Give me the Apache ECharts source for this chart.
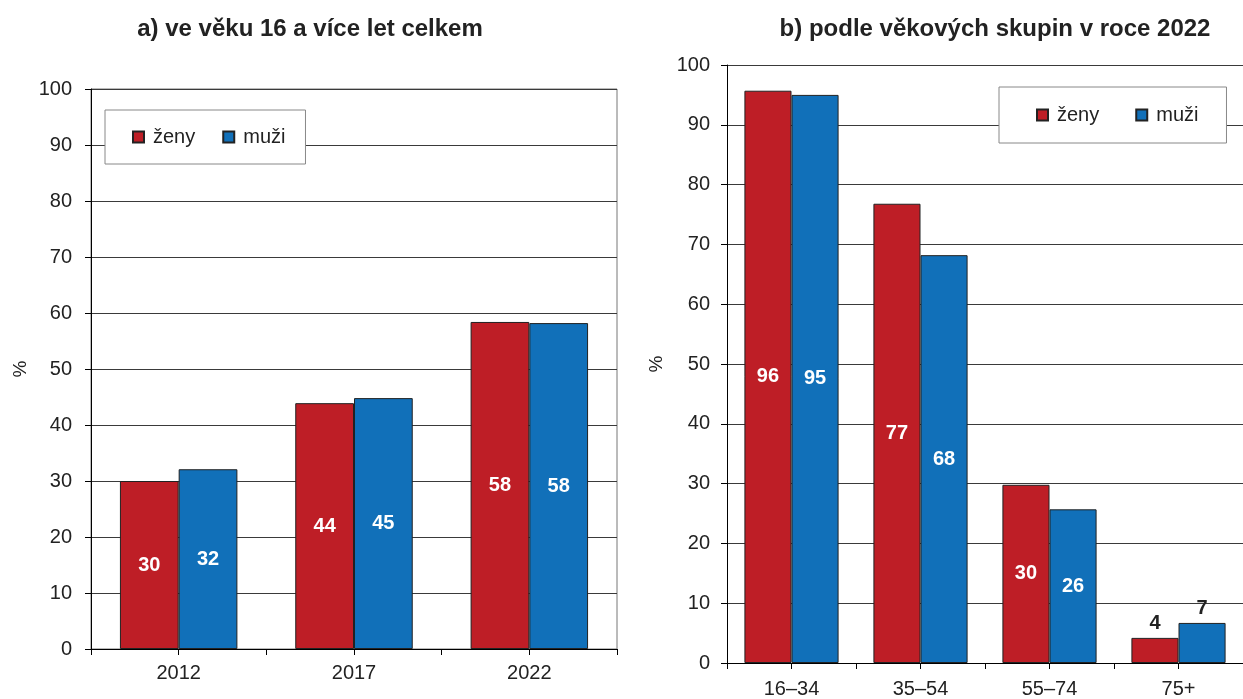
<!DOCTYPE html>
<html>
<head>
<meta charset="utf-8">
<script src="https://cdn.jsdelivr.net/npm/echarts@6/dist/echarts.min.js"></script>
<style>
  html, body { margin: 0; padding: 0; background: #fff; }
  #chart { width: 1243px; height: 699px; }
</style>
</head>
<body>
<div id="chart"></div>
<script>
// a) celkem
const years = ['2012', '2017', '2022'];
const zenyA = [30, 43.9, 58.4];
const muziA = [32.1, 44.8, 58.2];

// b) podle věkových skupin 2022
const ageGroups = ['16–34', '35–54', '55–74', '75+'];
const zenyB = [95.7, 76.8, 29.8, 4.2];
const muziB = [95.0, 68.2, 25.7, 6.7];

const yTicks = { min: 0, max: 100, interval: 10 };

const RED = '#BE1E26';
const BLUE = '#1170B9';
const FONT = '"Liberation Sans", Arial, sans-serif';

const chart = echarts.init(document.getElementById('chart'));

// bars of the 75+ group carry the label above the bar
const labelData = (vals, topIdx) => vals.map((v, i) => {
  if (i === topIdx) {
    return { value: v, label: { position: 'top', color: '#222', distance: 4 } };
  }
  return v;
});

const barBase = (name, color) => ({
  name: name,
  type: 'bar',
  barGap: 0,
  itemStyle: { color: color, borderColor: '#222', borderWidth: 1 },
  label: {
    show: true,
    position: 'inside',
    color: '#fff',
    fontFamily: FONT,
    fontWeight: 'bold',
    fontSize: 20,
    formatter: p => Math.round(p.value)
  },
  emphasis: { disabled: true }
});

const yAxisBase = {
  type: 'value',
  min: yTicks.min,
  max: yTicks.max,
  interval: yTicks.interval,
  name: '%',
  nameLocation: 'middle',
  nameRotate: 90,
  nameGap: 61,
  nameTextStyle: { fontFamily: FONT, fontSize: 19, color: '#222' },
  axisLine: { show: true, lineStyle: { color: '#000', width: 1 } },
  axisTick: { show: true, length: 6, lineStyle: { color: '#000' } },
  axisLabel: { fontFamily: FONT, fontSize: 20, color: '#222' },
  splitLine: { show: true, lineStyle: { color: '#3a3a3a', width: 1 } }
};

const legendBase = {
  data: ['ženy', 'muži'],
  icon: 'rect',
  itemWidth: 11,
  itemHeight: 11,
  borderColor: '#888',
  borderWidth: 1,
  backgroundColor: '#fff',
  textStyle: { fontFamily: FONT, fontSize: 20, color: '#222', padding: [0, 0, 0, 4] },
  selectedMode: false
};

// hidden value axis: ticks at band edges and band centres (n half-bands)
const halfTicks = (grid, n) => ({
  type: 'value', gridIndex: grid, position: 'bottom',
  min: 0, max: n, interval: 1,
  axisLine: { show: false },
  axisTick: { show: true, length: 6, lineStyle: { color: '#000' } },
  axisLabel: { show: false },
  splitLine: { show: false }
});

const option = {
  animation: false,
  title: [
    {
      text: 'a) ve věku 16 a více let celkem',
      left: 305, top: 12, textAlign: 'center',
      textStyle: { fontFamily: FONT, fontSize: 24, fontWeight: 'bold', color: '#222' }
    },
    {
      text: 'b) podle věkových skupin v roce 2022',
      left: 990, top: 12, textAlign: 'center',
      textStyle: { fontFamily: FONT, fontSize: 24, fontWeight: 'bold', color: '#222' }
    }
  ],
  legend: [
    Object.assign({ left: 105, top: 110, itemGap: 27, padding: [17, 20, 17, 27] }, legendBase),
    Object.assign({ left: 999, top: 87, itemGap: 36, padding: [18, 28, 18, 37] }, legendBase)
  ],
  grid: [
    { left: 91, top: 89, width: 526, height: 560, show: true, borderColor: '#777', borderWidth: 1 },
    { left: 727, top: 65, width: 525, height: 600 }
  ],
  xAxis: [
    {
      type: 'category', gridIndex: 0, data: years,
      axisLine: { lineStyle: { color: '#000' } },
      axisTick: { show: false },
      axisLabel: { fontFamily: FONT, fontSize: 20, color: '#222', margin: 14 }
    },
    halfTicks(0, 6),
    {
      type: 'category', gridIndex: 1, data: ageGroups,
      axisLine: { lineStyle: { color: '#000' } },
      axisTick: { show: false },
      axisLabel: { fontFamily: FONT, fontSize: 20, color: '#222', margin: 16 }
    },
    halfTicks(1, 8)
  ],
  yAxis: [
    Object.assign({ gridIndex: 0 }, yAxisBase, {
      axisLabel: Object.assign({}, yAxisBase.axisLabel, { margin: 19 })
    }),
    Object.assign({ gridIndex: 1 }, yAxisBase, {
      axisLabel: Object.assign({}, yAxisBase.axisLabel, { margin: 17 })
    })
  ],
  series: [
    Object.assign(barBase('ženy', RED), { xAxisIndex: 0, yAxisIndex: 0, barCategoryGap: '33%', data: zenyA }),
    Object.assign(barBase('muži', BLUE), { xAxisIndex: 0, yAxisIndex: 0, barCategoryGap: '33%', data: muziA }),
    Object.assign(barBase('ženy', RED), { xAxisIndex: 2, yAxisIndex: 1, barCategoryGap: '27%', data: labelData(zenyB, 3) }),
    Object.assign(barBase('muži', BLUE), { xAxisIndex: 2, yAxisIndex: 1, barCategoryGap: '27%', data: labelData(muziB, 3) })
  ]
};

chart.setOption(option);
</script>
</body>
</html>
